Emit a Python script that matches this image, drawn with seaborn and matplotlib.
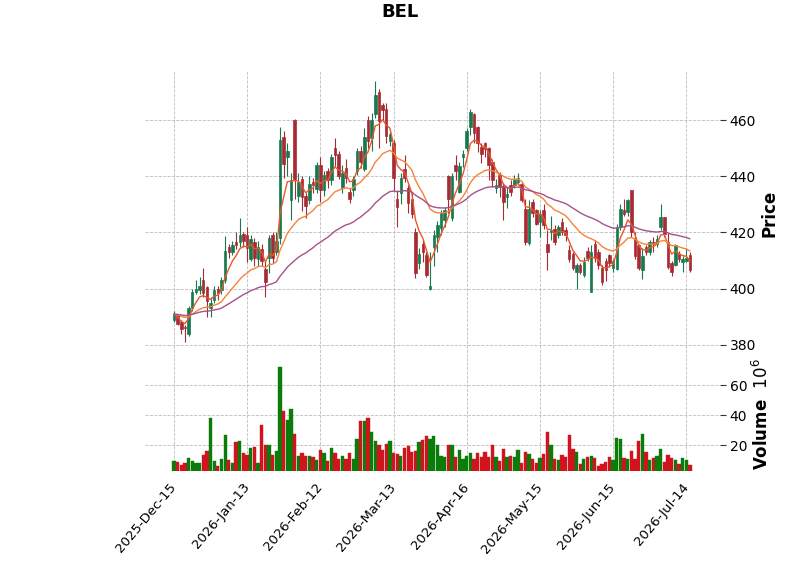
import numpy as np
import pandas as pd
import matplotlib
matplotlib.use("Agg")
import matplotlib.pyplot as plt
import seaborn as sns

# ---------------- data ----------------
opens = [389, 390.5, 388, 386.5, 384, 393, 399, 399.5, 403, 400.5,
         393, 396, 400, 399.5, 403, 415, 413, 416.5, 416.5, 419.5,
         419, 410.6, 416.5, 410.5, 414, 407, 411, 419, 413, 418,
         454, 447, 431.5, 460, 433, 439, 433, 431.6, 437.8, 435.5,
         444, 435, 442, 438.5, 450, 448, 436, 443, 434.5, 435,
         442, 449, 442.5, 460, 453.5, 462, 470, 465.5, 464, 452.5,
         452, 432, 434, 442.5, 436, 432, 420, 409, 416, 412,
         400, 415, 418.5, 421.5, 424.5, 440, 425, 444, 434.5, 447,
         450, 457.6, 462, 457.6, 450.5, 451.7, 450, 445, 436, 440.4,
         436.5, 432.7, 436.8, 437, 438, 437.4, 428.5, 416.3, 431, 428,
         423.8, 428, 416, 420.3, 421.4, 419, 423.8, 420.8, 413.7, 412.5,
         406, 408.4, 404.8, 413.5, 399, 416, 413, 407.5, 410, 412,
         407.5, 407, 422, 428, 427.3, 435, 418, 415.5, 406.6, 415,
         413, 416.7, 416, 422, 425.5, 416.7, 409, 408.4, 412.5, 409.6,
         410, 412]
highs = [392, 391, 389, 387, 394, 400, 403, 404, 407.5, 401,
         397, 401, 401, 404, 418.7, 416, 417, 420, 425, 420,
         422, 419, 418, 417, 416, 410, 419, 420, 420, 457.5,
         456, 452, 441, 460.5, 441, 440, 434, 440, 439.5, 445,
         447, 442, 443, 448, 453.5, 449, 444, 446, 436, 440,
         450, 450.7, 457, 461.4, 462.6, 474, 471, 466, 466, 456,
         453, 435, 441, 447.7, 437, 434, 421.5, 414.5, 417.4, 413,
         413, 421, 424, 428, 429, 440.5, 441, 447.5, 445, 449.3,
         457, 464, 462.4, 458, 451.7, 452.3, 450.5, 446, 439, 441.6,
         437.5, 436.3, 438.7, 440.4, 441, 438, 432, 431.5, 432, 428.5,
         428, 430.3, 420.8, 426, 422.6, 422.6, 425, 422, 415.5, 413,
         409, 409, 411.3, 414.9, 415.5, 417.3, 414, 408.5, 411, 412.5,
         410.5, 423, 430.3, 432, 432, 435, 420, 416, 414.5, 415.5,
         417.5, 418.4, 419, 430.3, 425.6, 419.7, 410, 416, 413.5, 411.5,
         414.5, 413]
lows = [388, 387, 384, 381, 383, 392, 398, 398, 397, 390,
        390, 395, 396, 398, 402, 411, 412, 414, 415, 415,
        409.5, 410, 408, 408, 408, 397, 405.5, 409, 412, 416,
        439.5, 440, 424.5, 432, 431, 427.6, 425, 430, 434, 434,
        431, 433, 436, 437, 443.5, 439, 434, 437.6, 430.5, 433,
        440.5, 443, 441.8, 450, 449, 460.8, 450, 460, 452, 450.7,
        434.6, 422, 430, 438, 427, 425, 403.7, 407, 409.6, 404,
        399.5, 408, 413, 419, 422, 427, 424, 438.7, 434, 443.4,
        449, 454.7, 451.7, 448.7, 444.6, 447, 438.7, 436.3, 434, 432.7,
        424.5, 428.6, 433, 435.7, 437, 430.8, 415.5, 415.5, 425.6, 422.6,
        418.4, 421.4, 406.6, 417.3, 415.5, 418, 419, 417, 409.6, 406.6,
        400, 405.4, 404.2, 410, 398.9, 409.6, 407, 401.2, 402.6, 407.8,
        406, 406.5, 421, 425.7, 426, 418.4, 410.5, 406.6, 403.6, 412,
        412, 413, 415, 421, 418.5, 407, 404.4, 408, 409.5, 406,
        409.5, 406]
closes = [391, 387.5, 385.5, 386, 393, 399, 400, 401, 398.5, 395.5,
          395, 399.5, 398.5, 403, 413.5, 413, 415.5, 415.5, 419, 417,
          414.5, 417.6, 411, 415, 410, 402.5, 418, 411, 417, 453,
          444.5, 449, 438.5, 439, 438, 432.6, 429.5, 437.3, 437, 444,
          435.2, 440.5, 438.5, 447, 447.5, 440, 441, 439.5, 432, 439,
          449, 445, 454, 452.5, 460, 469, 459.5, 463.5, 454.5, 455,
          439.5, 429, 439.5, 439.5, 430.5, 426.5, 405.5, 412.5, 413, 405,
          401, 419, 422.5, 427, 428, 432, 440, 442, 443.5, 448,
          456, 463, 455.3, 451.7, 448, 449.6, 444, 438.7, 437, 436.3,
          431, 433.6, 434.5, 438.7, 439.5, 431.5, 416.7, 428.2, 426.8, 423.2,
          426.7, 422.6, 413, 420.8, 416.7, 422, 420.2, 419, 410.7, 407.2,
          408.4, 406, 409.6, 411, 413, 411, 408.5, 402.5, 406.7, 409,
          410, 422, 428.5, 426.5, 431.5, 420, 411.5, 407.4, 411.5, 413,
          416.5, 415.8, 417.8, 425.5, 419.6, 407.8, 406, 415.5, 410.7, 410.4,
          411, 406.6]
volumes = [9.3, 8.6, 7.0, 7.7, 11.4, 9.3, 8.0, 8.0, 13.4, 15.7,
           38.2, 9.3, 5.9, 11.0, 26.4, 10.0, 8.2, 22.3, 23.0, 14.5,
           13.6, 17.7, 19.0, 8.0, 33.3, 20.0, 20.0, 13.3, 16.2, 72.2,
           43.0, 36.7, 44.0, 27.3, 13.0, 14.7, 12.7, 13.0, 12.0, 9.8,
           16.7, 14.7, 9.6, 18.2, 14.7, 10.7, 13.0, 11.0, 14.7, 10.9,
           23.9, 36.0, 36.0, 38.2, 29.0, 22.7, 20.0, 17.0, 20.7, 22.7,
           14.4, 14.0, 12.7, 17.8, 19.6, 15.6, 16.0, 22.2, 23.3, 26.2,
           24.0, 26.0, 20.0, 12.7, 12.2, 20.0, 20.0, 11.7, 16.4, 11.0,
           12.9, 14.6, 11.0, 14.4, 12.2, 15.6, 12.2, 19.8, 11.7, 9.5,
           17.3, 12.2, 12.6, 11.7, 16.9, 8.2, 15.6, 14.0, 10.7, 8.2,
           11.3, 14.0, 28.7, 20.0, 10.4, 9.8, 13.3, 12.2, 26.7, 17.3,
           15.3, 7.3, 10.4, 12.2, 13.0, 11.6, 6.3, 7.3, 8.9, 12.2,
           10.0, 24.9, 24.2, 11.3, 10.4, 15.8, 10.4, 22.7, 27.4, 15.3,
           9.8, 11.3, 12.7, 17.3, 8.7, 13.3, 11.3, 10.0, 7.3, 11.3,
           10.0, 6.7]
tick_labels = ["2025-Dec-15", "2026-Jan-13", "2026-Feb-12", "2026-Mar-13",
               "2026-Apr-16", "2026-May-15", "2026-Jun-15", "2026-Jul-14"]
tick_step = 20
ema_spans = [5, 20, 50]
ema_colors = ["#e9572a", "#f6833a", "#a4528a"]

# ---------------- styling ----------------
sns.set_theme(style="white")
plt.rcParams["font.family"] = ["DejaVu Sans"]
plt.rcParams.update({"text.color": "black", "axes.labelcolor": "black",
                     "xtick.color": "black", "ytick.color": "black",
                     "patch.force_edgecolor": False})

up_c, dn_c = "#177a4f", "#a82a33"
vup_c, vdn_c = "#0a7c0a", "#d1131e"
grid_kw = dict(ls="--", color="#bdbdbd", lw=0.6)

df = pd.DataFrame({"o": opens, "h": highs, "l": lows, "c": closes, "v": volumes})
df["x"] = np.arange(len(df))
df["up"] = df["c"] >= df["o"]

fig = plt.figure(figsize=(8, 5.75), dpi=100)
ax = fig.add_axes([0.18125, 0.3791, 0.71875, 0.4991])
axv = fig.add_axes([0.18125, 0.1809, 0.71875, 0.1983], sharex=ax)

# candles
colors = np.where(df["up"], up_c, dn_c)
ax.vlines(df["x"], df["l"], df["h"], colors=colors, lw=0.8, zorder=2)
body_lo = np.minimum(df["o"], df["c"])
body_h = np.maximum(np.abs(df["c"] - df["o"]), 0.3)
ax.bar(df["x"], body_h, bottom=body_lo, width=0.7, color=colors,
       edgecolor=colors, linewidth=0.5, zorder=3)

# moving averages
for span, col in zip(ema_spans, ema_colors):
    ema = df["c"].ewm(span=span, adjust=False).mean()
    sns.lineplot(x=df["x"], y=ema, ax=ax, color=col, lw=1.0, zorder=4)

# volume
vcolors = np.where(df["up"], vup_c, vdn_c)
axv.bar(df["x"], df["v"], width=0.9, color=vcolors, edgecolor=vcolors,
        linewidth=0.3, zorder=2)

# axes formatting
for a in (ax, axv):
    for s in a.spines.values():
        s.set_visible(False)
    a.grid(True, **grid_kw)
    a.set_axisbelow(True)
    a.yaxis.tick_right()
    a.yaxis.set_label_position("right")
    a.tick_params(axis="y", direction="out", length=4, width=0.8,
                  color="#333333", labelsize=10, pad=3)

ax.set_xlim(-7.9, 149.2)
ax.set_ylim(375.7, 477.8)
ax.set_yticks([380, 400, 420, 440, 460])
ax.set_xlabel("")
ax.set_ylabel("Price", fontsize=12, fontweight="bold", labelpad=3)
ax.tick_params(axis="x", length=0, labelbottom=False)

axv.set_ylim(2.7, 78.7)
axv.set_yticks([20, 40, 60])
axv.set_xticks(np.arange(0, len(df), tick_step)[:len(tick_labels)])
axv.set_xticklabels(tick_labels, rotation=50, ha="right", va="center",
                    rotation_mode="anchor", fontsize=9.5)
axv.tick_params(axis="x", direction="out", length=4, width=0.8,
                color="#333333", pad=6)
axv.set_xlabel("")
axv.set_ylabel("Volume  $10^{6}$", fontsize=12, fontweight="bold", labelpad=3)

fig.suptitle("BEL", fontsize=13, fontweight="bold", x=0.5, y=0.995, va="top")

fig.savefig("out.png", dpi=100)
